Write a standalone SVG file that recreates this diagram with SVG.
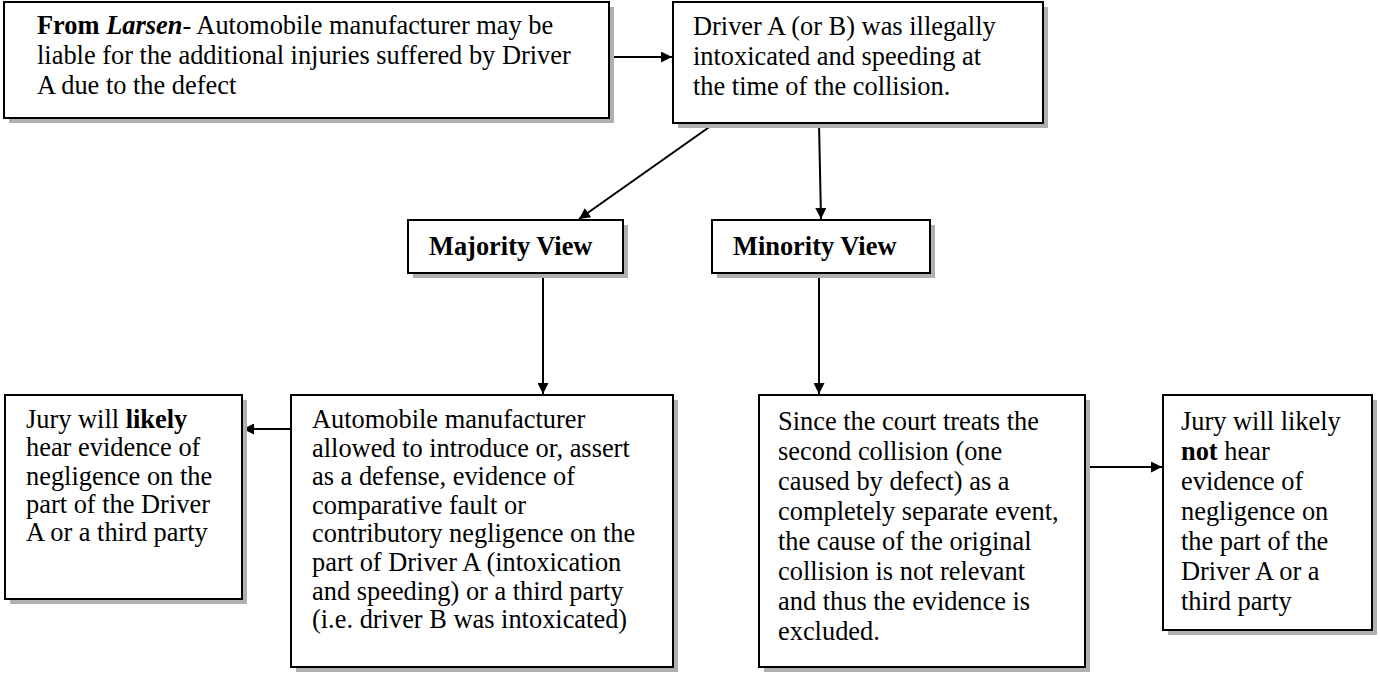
<svg xmlns="http://www.w3.org/2000/svg" width="1380" height="677" viewBox="0 0 1380 677">
<defs>
<style>
.box{fill:#fff;stroke:#000;stroke-width:2}
.sh{fill:#b0b0b0}
.t{font-family:"Liberation Serif","Times New Roman",serif;font-size:26.4px;fill:#000}
.b{font-weight:bold}
.i{font-style:italic}
.c{stroke:#000;stroke-width:2;fill:none;marker-end:url(#ah)}
</style>
<marker id="ah" viewBox="0 0 10 10" refX="10" refY="5" markerWidth="13" markerHeight="11" markerUnits="userSpaceOnUse" orient="auto"><path d="M0,0 L10,5 L0,10 z" fill="#000"/></marker>
</defs>
<g id="connectors">
<line class="c" x1="609" y1="57" x2="672" y2="57"/>
<line class="c" x1="715" y1="123" x2="579" y2="219"/>
<line class="c" x1="819" y1="123" x2="821" y2="219"/>
<line class="c" x1="543" y1="273" x2="543" y2="394"/>
<line class="c" x1="819" y1="273" x2="819" y2="394"/>
<line class="c" x1="291" y1="429" x2="243" y2="429"/>
<line class="c" x1="1085" y1="467" x2="1162" y2="467"/>
</g>
<g id="n1">
<rect class="sh" x="9" y="7" width="605" height="116"/>
<rect class="box" x="4" y="2" width="605" height="116"/>
<text class="t" x="37" y="34"><tspan class="b">From </tspan><tspan class="b i">Larsen</tspan><tspan class="i">-</tspan> Automobile manufacturer may be</text>
<text class="t" x="37" y="64">liable for the additional injuries suffered by Driver</text>
<text class="t" x="37" y="94">A due to the defect</text>
</g>
<g id="n2">
<rect class="sh" x="678" y="7" width="370" height="121"/>
<rect class="box" x="673" y="2" width="370" height="121"/>
<text class="t" x="693" y="35">Driver A (or B) was illegally</text>
<text class="t" x="693" y="65">intoxicated and speeding at</text>
<text class="t" x="693" y="95">the time of the collision.</text>
</g>
<g id="majority">
<rect class="sh" x="413" y="225" width="215" height="53"/>
<rect class="box" x="408" y="220" width="215" height="53"/>
<text class="t b" x="429" y="255">Majority View</text>
</g>
<g id="minority">
<rect class="sh" x="717" y="225" width="218" height="53"/>
<rect class="box" x="712" y="220" width="218" height="53"/>
<text class="t b" x="733" y="255">Minority View</text>
</g>
<g id="jury-likely">
<rect class="sh" x="10" y="400" width="237" height="204"/>
<rect class="box" x="5" y="395" width="237" height="204"/>
<text class="t" x="26" y="428">Jury will <tspan class="b">likely</tspan></text>
<text class="t" x="26" y="456">hear evidence of</text>
<text class="t" x="26" y="485">negligence on the</text>
<text class="t" x="26" y="513">part of the Driver</text>
<text class="t" x="26" y="541">A or a third party</text>
</g>
<g id="automobile">
<rect class="sh" x="296" y="400" width="382" height="272"/>
<rect class="box" x="291" y="395" width="382" height="272"/>
<text class="t" x="312" y="428">Automobile manufacturer</text>
<text class="t" x="312" y="457">allowed to introduce or, assert</text>
<text class="t" x="312" y="485">as a defense, evidence of</text>
<text class="t" x="312" y="514">comparative fault or</text>
<text class="t" x="312" y="542">contributory negligence on the</text>
<text class="t" x="312" y="571">part of Driver A (intoxication</text>
<text class="t" x="312" y="600">and speeding) or a third party</text>
<text class="t" x="312" y="628">(i.e. driver B was intoxicated)</text>
</g>
<g id="since">
<rect class="sh" x="764" y="400" width="326" height="272"/>
<rect class="box" x="759" y="395" width="326" height="272"/>
<text class="t" x="778" y="430">Since the court treats the</text>
<text class="t" x="778" y="460">second collision (one</text>
<text class="t" x="778" y="490">caused by defect) as a</text>
<text class="t" x="778" y="520">completely separate event,</text>
<text class="t" x="778" y="550">the cause of the original</text>
<text class="t" x="778" y="580">collision is not relevant</text>
<text class="t" x="778" y="610">and thus the evidence is</text>
<text class="t" x="778" y="640">excluded.</text>
</g>
<g id="jury-not">
<rect class="sh" x="1168" y="400" width="209" height="235"/>
<rect class="box" x="1163" y="395" width="209" height="235"/>
<text class="t" x="1181" y="430">Jury will likely</text>
<text class="t" x="1181" y="460"><tspan class="b">not</tspan> hear</text>
<text class="t" x="1181" y="490">evidence of</text>
<text class="t" x="1181" y="520">negligence on</text>
<text class="t" x="1181" y="550">the part of the</text>
<text class="t" x="1181" y="580">Driver A or a</text>
<text class="t" x="1181" y="610">third party</text>
</g>
</svg>
